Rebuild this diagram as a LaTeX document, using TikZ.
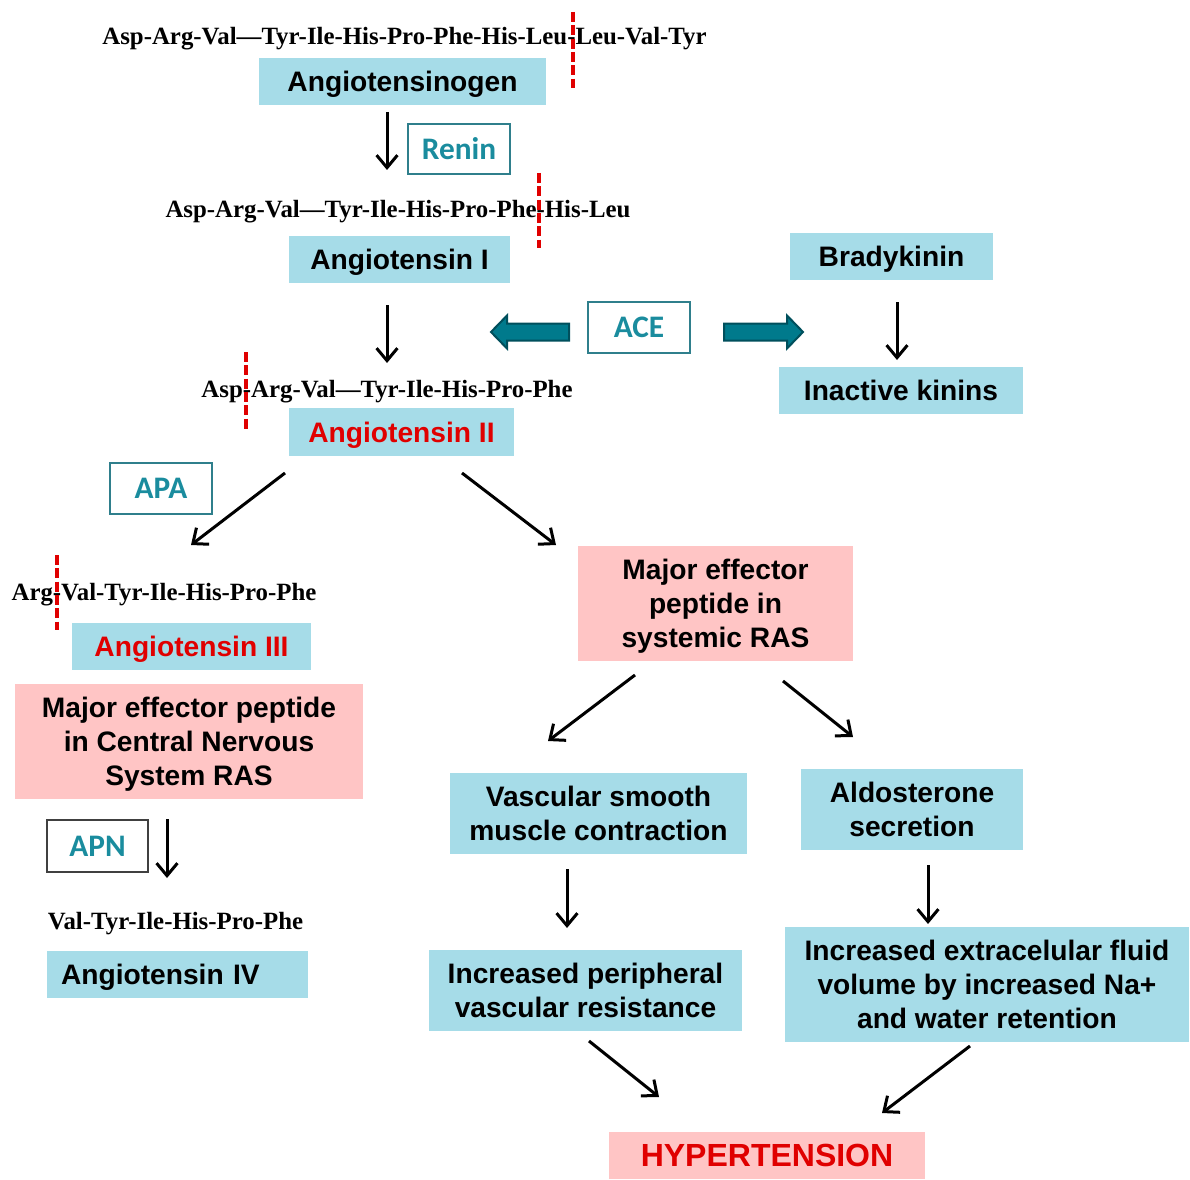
\documentclass[tikz,border=0pt]{standalone}
\usepackage{fontspec}
\setmainfont{Liberation Sans}
\newfontfamily\pepfont{Liberation Serif}
\newfontfamily\enzfont{Carlito}
\usetikzlibrary{arrows.meta}
\definecolor{boxblue}{HTML}{A6DCE8}
\definecolor{boxpink}{HTML}{FFC5C5}
\definecolor{txtred}{HTML}{E00000}
\definecolor{enzteal}{HTML}{1A8C9E}
\definecolor{enzline}{HTML}{2F7F8C}
\definecolor{acefill}{HTML}{007A8C}
\definecolor{aceline}{HTML}{004F5C}
\tikzset{
  sz/.style 2 args={minimum width=#1*0.6pt,minimum height=#2*0.6pt},
  stagebox/.style={fill=boxblue,inner sep=0pt,align=center,text depth=0pt,
    font=\bfseries\fontsize{16.9}{20.4}\selectfont},
  effectbox/.style={stagebox,fill=boxpink},
  enzyme/.style={draw=enzline,line width=1pt,inner sep=0pt,text=enzteal,
    font=\enzfont\bfseries\fontsize{18.8}{20}\selectfont},
  peptide/.style={inner sep=0pt,text depth=0pt,
    font=\pepfont\bfseries\fontsize{14.9}{16}\selectfont},
  cut/.style={draw=txtred,line width=2.3pt,dash pattern=on 6pt off 2pt},
  flow/.style={line width=1.8pt,-{Straight Barb[length=7.5pt,width=12.5pt]}},
  fatarrow/.style={fill=acefill,draw=aceline,line width=1.2pt,line join=miter}
}
\begin{document}
\begin{tikzpicture}[x=0.6pt,y=-0.6pt]
  \useasboundingbox (0,0) rectangle (1190,1180);
  % peptide chains
  \node[peptide] (seqA) at (404.5,36) {Asp-Arg-Val—Tyr-Ile-His-Pro-Phe-His-Leu-Leu-Val-Tyr};
  \node[peptide] (seqB) at (398,209) {Asp-Arg-Val—Tyr-Ile-His-Pro-Phe-His-Leu};
  \node[peptide] (seqC) at (387,389) {Asp-Arg-Val—Tyr-Ile-His-Pro-Phe};
  \node[peptide] (seqD) at (164,592) {Arg-Val-Tyr-Ile-His-Pro-Phe};
  \node[peptide] (seqE) at (175.5,921) {Val-Tyr-Ile-His-Pro-Phe};
  % cleavage sites
  \draw[cut] (573,12) -- (573,88);
  \draw[cut] (539,173) -- (539,248);
  \draw[cut] (246,352) -- (246,430);
  \draw[cut] (57,555) -- (57,630);
  % stages
  \node[stagebox,sz={287}{47}] (ogen) at (402.5,81.5) {Angiotensinogen};
  \node[stagebox,sz={221}{47}] (angI) at (399.5,259.5) {Angiotensin I};
  \node[stagebox,sz={203}{47}] (brady) at (891.5,256.5) {Bradykinin};
  \node[stagebox,sz={244}{47}] (inact) at (901,390.5) {Inactive kinins};
  \node[stagebox,sz={225}{48},text=txtred] (angII) at (401.5,432) {Angiotensin II};
  \node[stagebox,sz={239}{47},text=txtred] (angIII) at (191.5,646.5) {Angiotensin III};
  \node[effectbox,sz={348}{115}] (cns) at (189,741.5) {Major effector peptide\\in Central Nervous\\System RAS};
  \node[stagebox,sz={261}{47},text width=233*0.6pt,align=left] (angIV) at (177.5,974.5) {Angiotensin IV};
  \node[effectbox,sz={275}{115}] (sys) at (715.5,603.5) {Major effector\\peptide in\\systemic RAS};
  \node[stagebox,sz={297}{81}] (vsm) at (598.5,813.5) {Vascular smooth\\muscle contraction};
  \node[stagebox,sz={222}{81}] (aldo) at (912,809.5) {Aldosterone\\secretion};
  \node[stagebox,sz={313}{81}] (ipvr) at (585.5,990.5) {Increased peripheral\\vascular resistance};
  \node[stagebox,sz={404}{115}] (ecf) at (987,984.5) {Increased extracelular fluid\\volume by increased Na+\\and water retention};
  \node[effectbox,sz={316}{47},text=txtred,font=\bfseries\fontsize{19.2}{22}\selectfont] (hyp) at (767,1155.5) {HYPERTENSION};
  % enzymes
  \node[enzyme,sz={102}{50}] (renin) at (459,149) {Renin};
  \node[enzyme,sz={102}{51}] (ace) at (639,327.5) {ACE};
  \node[enzyme,sz={102}{51}] (apa) at (161,488.5) {APA};
  \node[enzyme,sz={101}{52},draw=black!75] (apn) at (97.5,846) {APN};
  % ACE block arrows
  \draw[fatarrow] (491,332) -- (507,315.5) -- (507,323.5) -- (569,323.5)
    -- (569,340.5) -- (507,340.5) -- (507,348.5) -- cycle;
  \draw[fatarrow] (803,332) -- (787,315.5) -- (787,323.5) -- (724,323.5)
    -- (724,340.5) -- (787,340.5) -- (787,348.5) -- cycle;
  % arrow ends
  \coordinate (a1s) at (387,112);  \coordinate (a1e) at (387,170);
  \coordinate (a2s) at (387,305);  \coordinate (a2e) at (387,363);
  \coordinate (a3s) at (897,302);  \coordinate (a3e) at (897,360);
  \coordinate (a4s) at (285,473);  \coordinate (a4e) at (191,545);
  \coordinate (a5s) at (462,473);  \coordinate (a5e) at (556,545);
  \coordinate (a6s) at (635,675);  \coordinate (a6e) at (548,741);
  \coordinate (a7s) at (783,681);  \coordinate (a7e) at (853,737);
  \coordinate (a8s) at (167,819);  \coordinate (a8e) at (167,878);
  \coordinate (a9s) at (567,869);  \coordinate (a9e) at (567,928);
  \coordinate (a10s) at (928,865); \coordinate (a10e) at (928,924);
  \coordinate (a11s) at (589,1041); \coordinate (a11e) at (659,1097);
  \coordinate (a12s) at (970,1046); \coordinate (a12e) at (882,1113);
  \foreach \n in {1,...,12}{%
    \draw[flow] (a\n s) -- (a\n e);
  }
\end{tikzpicture}
\end{document}
